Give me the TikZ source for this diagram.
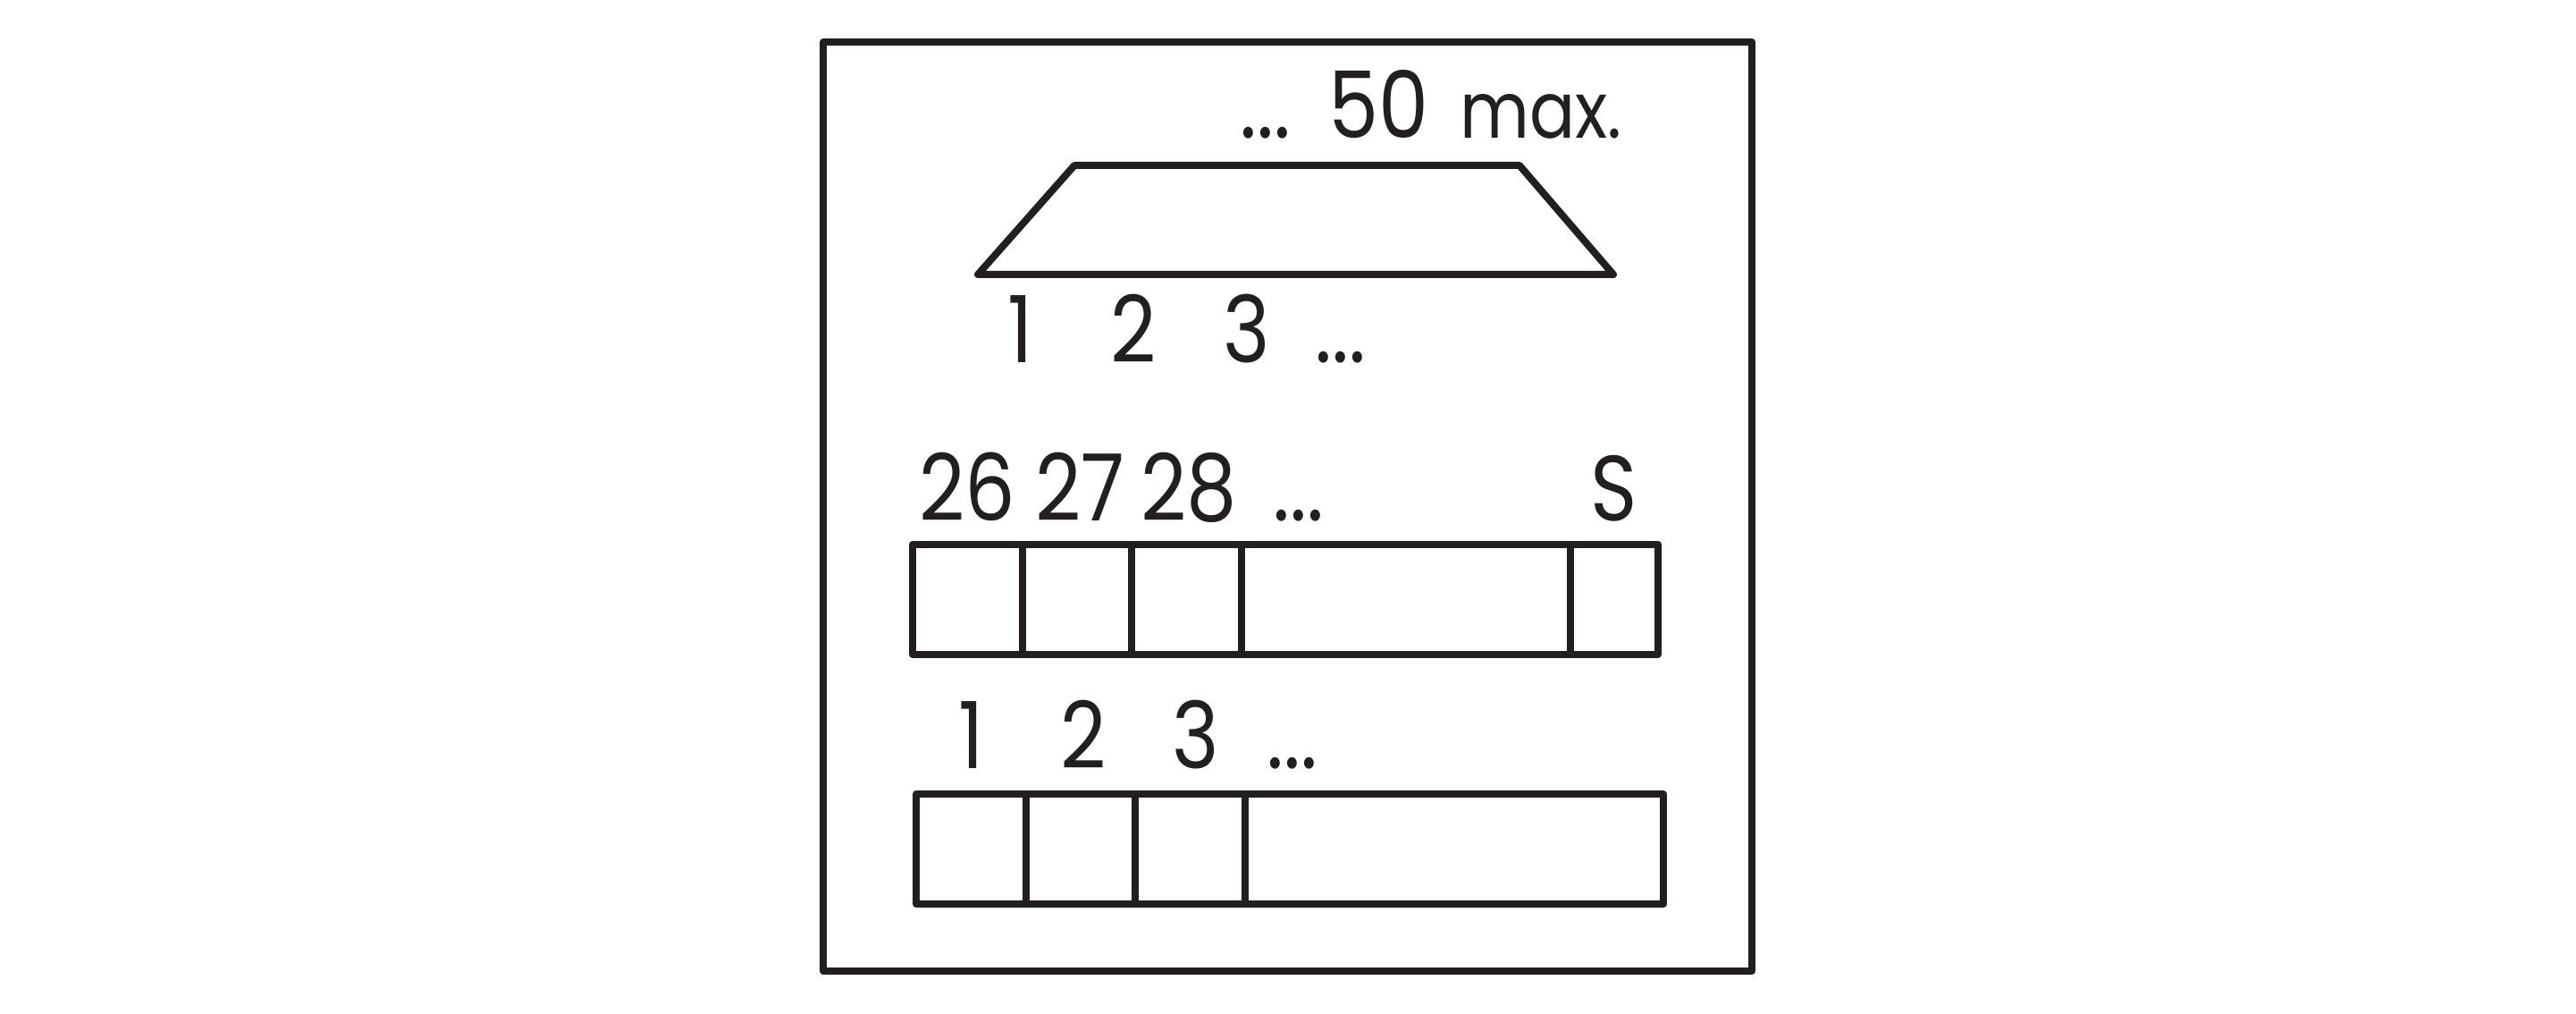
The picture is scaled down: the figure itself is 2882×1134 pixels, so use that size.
\documentclass[tikz,border=0pt]{standalone}
\usepackage{fontspec}
\setmainfont[FakeStretch=0.86]{Poppins}
\definecolor{ink}{HTML}{231F20}
\begin{document}
\begin{tikzpicture}[x=0.1mm,y=-0.1mm,
  ln/.style={draw=ink, line width=0.8mm, line join=round},
  lbl/.style={font=\fontsize{29.5}{29.5}\selectfont, inner sep=0pt, anchor=base, text=ink},
  small/.style={lbl, font=\fontsize{25}{25}\selectfont}]
\useasboundingbox (0,0) rectangle (2882,1134);
% outer frame
\draw[ln] (921,47) rectangle (1960,1086);
% trapezoid
\coordinate (tbl) at (1094,307);
\coordinate (ttl) at (1202,185);
\coordinate (ttr) at (1700,185);
\coordinate (tbr) at (1805,307);
\draw[ln] (tbl) -- (ttl) -- (ttr) -- (tbr) -- cycle;
\node[lbl] (tdots) at (1416,155) {...};
\node[lbl] (tfifty) at (1542,155) {50};
\node[small] (tmax) at (1724,155) {max.};
\node[lbl] (a1) at (1142,406) {1};
\node[lbl] (a2) at (1268,406) {2};
\node[lbl] (a3) at (1395,406) {3};
\node[lbl] (adots) at (1500,406) {...};
% middle strip
\draw[ln] (1021,609) rectangle (1855,732);
\foreach \x in {1144,1266,1389,1757} \draw[ln] (\x,609) -- (\x,732);
\node[lbl] (b26) at (1082,582) {26};
\node[lbl] (b27) at (1208,582) {27};
\node[lbl] (b28) at (1330,582) {28};
\node[lbl] (bdots) at (1453,582) {...};
\node[lbl] (bS) at (1806,582) {S};
% bottom strip
\draw[ln] (1025,888) rectangle (1861,1011);
\foreach \x in {1148,1270,1393} \draw[ln] (\x,888) -- (\x,1011);
\node[lbl] (c1) at (1087,859) {1};
\node[lbl] (c2) at (1212,859) {2};
\node[lbl] (c3) at (1338,859) {3};
\node[lbl] (cdots) at (1446,859) {...};
\end{tikzpicture}
\end{document}
